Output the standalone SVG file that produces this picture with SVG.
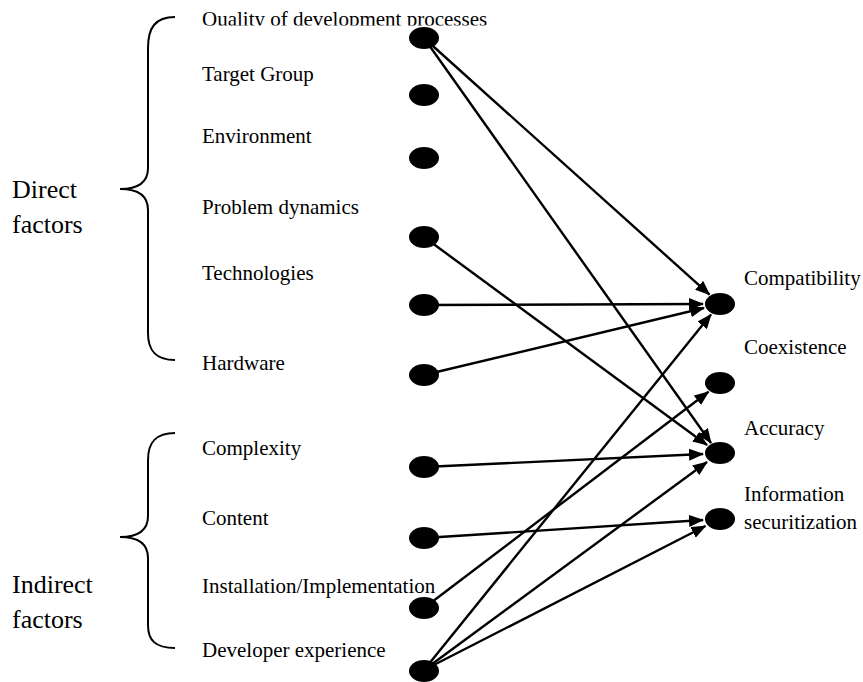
<svg xmlns="http://www.w3.org/2000/svg" width="863" height="682" viewBox="0 0 863 682">
<style>
text{font-family:'Liberation Serif','DejaVu Serif',serif;fill:#000}
.lbl{font-size:21px}
.grp{font-size:26px}
.dot{fill:#000}
.edge{stroke:#000;stroke-width:2.4;fill:none;marker-end:url(#arr)}
.brace{stroke:#000;stroke-width:2;fill:none}
</style>
<defs>
<marker id="arr" markerUnits="userSpaceOnUse" markerWidth="15" markerHeight="12" refX="14" refY="6" orient="auto">
<path d="M0,0 L15,6 L0,12 z" fill="#000"/>
</marker>
<clipPath id="topclip"><rect x="0" y="0" width="863" height="25.5"/></clipPath>
</defs>
<rect width="863" height="682" fill="#fff"/>

<g id="braces">
<path class="brace" d="M175,17 C155,17 148,28 148,48 L148,168 C148,181 140,189 120,189 C140,189 148,197 148,210 L148,333 C148,350 155,360 175,360"/>
<path class="brace" d="M175,433 C155,433 148,443 148,460 L148,516 C148,529 140,537 120,537 C140,537 148,545 148,558 L148,625 C148,640 155,648 175,648"/>
</g>

<g id="group-labels" font-family="Liberation Serif, DejaVu Serif, serif">
<text class="grp" x="12" y="198">Direct</text>
<text class="grp" x="12" y="233">factors</text>
<text class="grp" x="12" y="593">Indirect</text>
<text class="grp" x="12" y="628">factors</text>
</g>

<g id="connectors">
<line class="edge" x1="424" y1="38" x2="709.5" y2="294.6"/>
<line class="edge" x1="424" y1="38" x2="711" y2="443"/>
<line class="edge" x1="424" y1="237" x2="707" y2="445"/>
<line class="edge" x1="424" y1="305" x2="703" y2="304"/>
<line class="edge" x1="424" y1="375" x2="704" y2="308"/>
<line class="edge" x1="424" y1="467" x2="703" y2="454"/>
<line class="edge" x1="424" y1="538" x2="703" y2="520"/>
<line class="edge" x1="424" y1="608" x2="708.5" y2="391.8"/>
<line class="edge" x1="424" y1="670" x2="711" y2="314.5"/>
<line class="edge" x1="424" y1="670" x2="707" y2="462"/>
<line class="edge" x1="424" y1="670" x2="705.5" y2="526"/>
</g>

<g id="n-quality"><ellipse class="dot" cx="424" cy="38" rx="15" ry="11"/><text class="lbl" x="202" y="26" clip-path="url(#topclip)">Quality of development processes</text></g>
<g id="n-target"><ellipse class="dot" cx="424" cy="95" rx="15" ry="11"/><text class="lbl" x="202" y="81">Target Group</text></g>
<g id="n-environment"><ellipse class="dot" cx="424" cy="158" rx="15" ry="11"/><text class="lbl" x="202" y="143">Environment</text></g>
<g id="n-problem"><ellipse class="dot" cx="424" cy="237" rx="15" ry="11"/><text class="lbl" x="202" y="214">Problem dynamics</text></g>
<g id="n-technologies"><ellipse class="dot" cx="424" cy="305" rx="15" ry="11"/><text class="lbl" x="202" y="280">Technologies</text></g>
<g id="n-hardware"><ellipse class="dot" cx="424" cy="375" rx="15" ry="11"/><text class="lbl" x="202" y="370">Hardware</text></g>
<g id="n-complexity"><ellipse class="dot" cx="424" cy="467" rx="15" ry="11"/><text class="lbl" x="202" y="455">Complexity</text></g>
<g id="n-content"><ellipse class="dot" cx="424" cy="538" rx="15" ry="11"/><text class="lbl" x="202" y="525">Content</text></g>
<g id="n-installation"><ellipse class="dot" cx="424" cy="608" rx="15" ry="11"/><text class="lbl" x="202" y="593">Installation/Implementation</text></g>
<g id="n-developer"><ellipse class="dot" cx="424" cy="671" rx="15" ry="11"/><text class="lbl" x="202" y="657">Developer experience</text></g>

<g id="n-compatibility"><ellipse class="dot" cx="720" cy="304" rx="15" ry="11"/><text class="lbl" x="744" y="285">Compatibility</text></g>
<g id="n-coexistence"><ellipse class="dot" cx="720" cy="383" rx="15" ry="11"/><text class="lbl" x="744" y="354">Coexistence</text></g>
<g id="n-accuracy"><ellipse class="dot" cx="720" cy="453" rx="15" ry="11"/><text class="lbl" x="744" y="435">Accuracy</text></g>
<g id="n-infosec"><ellipse class="dot" cx="720" cy="519" rx="15" ry="11"/><text class="lbl" x="744" y="501">Information</text><text class="lbl" x="744" y="529">securitization</text></g>
</svg>
